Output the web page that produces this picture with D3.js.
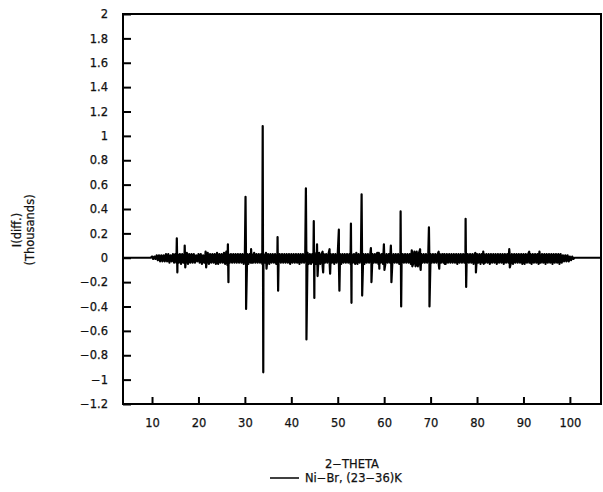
<!DOCTYPE html>
<html>
<head>
<meta charset="utf-8">
<script src="https://cdn.jsdelivr.net/npm/d3@7"></script>
<style>
  body { margin: 0; background: #fff; }
  text { font-family: "DejaVu Sans", sans-serif; fill: #111; stroke: #111; stroke-width: 0.25px; }
</style>
</head>
<body>
<div id="chart-area"></div>
<script>
// plot box in page pixels
const MARGIN = { LEFT: 123, RIGHT: 2, TOP: 14, BOTTOM: 88 }
const W = 603, H = 492
const WIDTH = W - MARGIN.LEFT - MARGIN.RIGHT
const HEIGHT = H - MARGIN.TOP - MARGIN.BOTTOM

// tick values
const xTicks = [10, 20, 30, 40, 50, 60, 70, 80, 90, 100]
const yTicks = [-1.2, -1, -0.8, -0.6, -0.4, -0.2, 0, 0.2, 0.4, 0.6, 0.8, 1, 1.2, 1.4, 1.6, 1.8, 2]

// background residual envelope, every 0.5 deg from 10 to 100.5 (thousands)
const noiseStart = 10
const noiseStep = 0.5
const noiseHi = [
  0.01,0.01,0.02,0.02,0.02,0.02,0.03,0.03,0.02,0.03,
  0.03,0.03,0.03,0.03,0.03,0.04,0.03,0.03,0.03,0.02,
  0.03,0.03,0.02,0.03,0.04,0.03,0.03,0.03,0.04,0.03,
  0.03,0.04,0.05,0.03,0.03,0.03,0.03,0.03,0.03,0.03,
  0.03,0.03,0.03,0.03,0.04,0.03,0.03,0.03,0.03,0.03,
  0.03,0.03,0.03,0.03,0.03,0.03,0.03,0.03,0.03,0.03,
  0.03,0.03,0.03,0.03,0.03,0.03,0.03,0.04,0.03,0.03,
  0.04,0.03,0.04,0.03,0.03,0.03,0.03,0.03,0.03,0.03,
  0.03,0.03,0.03,0.03,0.03,0.03,0.03,0.03,0.04,0.03,
  0.03,0.03,0.03,0.03,0.03,0.03,0.03,0.04,0.03,0.03,
  0.03,0.03,0.03,0.03,0.03,0.03,0.03,0.03,0.03,0.03,
  0.03,0.03,0.04,0.05,0.05,0.04,0.03,0.03,0.03,0.03,
  0.03,0.03,0.03,0.03,0.03,0.03,0.03,0.03,0.03,0.03,
  0.03,0.03,0.03,0.03,0.03,0.04,0.03,0.03,0.03,0.03,
  0.03,0.03,0.03,0.03,0.03,0.03,0.03,0.03,0.03,0.03,
  0.03,0.03,0.03,0.03,0.04,0.03,0.03,0.03,0.03,0.03,
  0.03,0.03,0.03,0.03,0.03,0.03,0.03,0.03,0.03,0.03,
  0.03,0.03,0.03,0.03,0.03,0.03,0.03,0.02,0.02,0.02,
  0.01,0.01
]
const noiseLo = [
  -0.01,-0.01,-0.02,-0.03,-0.03,-0.03,-0.03,-0.04,-0.03,-0.04,
  -0.04,-0.04,-0.05,-0.04,-0.04,-0.05,-0.04,-0.04,-0.04,-0.03,
  -0.04,-0.05,-0.04,-0.04,-0.05,-0.04,-0.04,-0.05,-0.05,-0.04,
  -0.04,-0.05,-0.06,-0.04,-0.04,-0.04,-0.04,-0.04,-0.04,-0.05,
  -0.04,-0.05,-0.04,-0.04,-0.04,-0.04,-0.04,-0.05,-0.04,-0.05,
  -0.05,-0.04,-0.04,-0.05,-0.04,-0.04,-0.04,-0.04,-0.04,-0.05,
  -0.04,-0.04,-0.04,-0.05,-0.04,-0.04,-0.04,-0.05,-0.05,-0.04,
  -0.05,-0.08,-0.05,-0.07,-0.04,-0.04,-0.04,-0.04,-0.05,-0.04,
  -0.04,-0.05,-0.04,-0.04,-0.04,-0.05,-0.04,-0.05,-0.05,-0.04,
  -0.04,-0.05,-0.04,-0.04,-0.05,-0.04,-0.04,-0.05,-0.04,-0.05,
  -0.05,-0.04,-0.04,-0.05,-0.04,-0.04,-0.05,-0.05,-0.04,-0.04,
  -0.04,-0.05,-0.05,-0.07,-0.07,-0.06,-0.04,-0.04,-0.04,-0.05,
  -0.04,-0.04,-0.04,-0.05,-0.04,-0.04,-0.05,-0.04,-0.04,-0.04,
  -0.04,-0.05,-0.04,-0.04,-0.04,-0.05,-0.04,-0.04,-0.05,-0.04,
  -0.04,-0.05,-0.04,-0.04,-0.04,-0.05,-0.04,-0.04,-0.05,-0.04,
  -0.04,-0.05,-0.04,-0.04,-0.05,-0.05,-0.04,-0.04,-0.04,-0.05,
  -0.05,-0.04,-0.04,-0.05,-0.04,-0.04,-0.05,-0.04,-0.04,-0.05,
  -0.04,-0.04,-0.05,-0.04,-0.04,-0.05,-0.04,-0.03,-0.03,-0.03,
  -0.02,-0.01
]

// peaks: position (2-theta), top and bottom of each swing
const peakPos  = [15.4, 17.1, 21.6, 26.4, 30.2, 31.4, 33.9, 34.6, 37.1, 43.2, 44.9, 45.6, 46.8, 48.3, 50.3, 52.9, 55.2, 57.2, 58.9, 60.0, 61.5, 63.6, 66.0, 67.8, 69.7, 71.8, 73.0, 77.6, 79.7, 81.4, 87.0, 91.3, 93.5]
const peakUp   = [0.16, 0.10, 0.05, 0.11, 0.50, 0.07, 1.08, 0.04, 0.17, 0.57, 0.30, 0.11, 0.05, 0.07, 0.23, 0.28, 0.52, 0.08, 0.04, 0.11, 0.10, 0.38, 0.06, 0.07, 0.25, 0.05, 0.03, 0.32, 0.04, 0.05, 0.07, 0.05, 0.05]
const peakDown = [-0.12, -0.08, -0.08, -0.20, -0.42, -0.04, -0.94, -0.09, -0.27, -0.67, -0.33, -0.15, -0.12, -0.13, -0.27, -0.37, -0.31, -0.20, -0.09, -0.10, -0.20, -0.40, -0.07, -0.10, -0.40, -0.09, -0.05, -0.24, -0.12, -0.05, -0.08, -0.04, -0.04]

const svg = d3.select("#chart-area").append("svg")
  .attr("width", W)
  .attr("height", H)

const g = svg.append("g")
  .attr("transform", `translate(${MARGIN.LEFT}, ${MARGIN.TOP})`)

// scales
const x = d3.scaleLinear().domain([3.75, 106.7]).range([0, WIDTH])
const y = d3.scaleLinear().domain([-1.2, 2]).range([HEIGHT, 0])

// build the trace: envelope zigzag plus the peak swings
let pts = []
noiseHi.forEach((v, i) => {
  const t = noiseStart + i * noiseStep
  pts.push({ t: t, v: v })
  pts.push({ t: t + noiseStep / 2, v: noiseLo[i] })
})
peakPos.forEach((p, i) => {
  pts.push({ t: p - 0.06, v: peakUp[i] })
  pts.push({ t: p + 0.06, v: peakDown[i] })
})
pts.push({ t: x.domain()[0], v: 0 })
pts.push({ t: noiseStart - 0.3, v: 0 })
pts.push({ t: noiseStart + noiseHi.length * noiseStep, v: 0 })
pts.push({ t: x.domain()[1], v: 0 })
pts.sort((a, b) => a.t - b.t)

const line = d3.line()
  .x(d => x(d.t))
  .y(d => y(d.v))

g.append("path")
  .attr("fill", "none")
  .attr("stroke", "#000")
  .attr("stroke-width", 2.2)
  .attr("stroke-linejoin", "round")
  .attr("d", line(pts))

// axes (ticks point inward)
const yAxis = g.append("g")
  .call(d3.axisLeft(y).tickValues(yTicks).tickSize(-8).tickPadding(15))
yAxis.select(".domain").remove()
yAxis.selectAll("line").attr("stroke", "#000").attr("stroke-width", 2)
yAxis.selectAll("text").style("font-size", "11.5px").style("font-family", "DejaVu Sans")
  .text(d => d < 0 ? "\u2212" + Math.abs(d) : d)

const xAxis = g.append("g")
  .attr("transform", `translate(0, ${HEIGHT})`)
  .call(d3.axisBottom(x).tickValues(xTicks).tickSize(-7).tickPadding(15))
xAxis.select(".domain").remove()
xAxis.selectAll("line").attr("stroke", "#000").attr("stroke-width", 2)
xAxis.selectAll("text").style("font-size", "11.5px").style("font-family", "DejaVu Sans")

// frame
g.append("rect")
  .attr("width", WIDTH)
  .attr("height", HEIGHT)
  .attr("fill", "none")
  .attr("stroke", "#000")
  .attr("stroke-width", 2)

// y title
const yTitle = svg.append("g")
  .attr("transform", "translate(0, 230) rotate(-90)")
yTitle.append("text").attr("x", 0).attr("y", 21)
  .attr("text-anchor", "middle").style("font-size", "11.5px").text("I(diff.)")
yTitle.append("text").attr("x", 0).attr("y", 34)
  .attr("text-anchor", "middle").style("font-size", "11.5px").text("(Thousands)")

// x title and legend
svg.append("text")
  .attr("x", 352).attr("y", 468)
  .attr("text-anchor", "middle").style("font-size", "11.5px")
  .text("2\u2212THETA")

svg.append("line")
  .attr("x1", 270).attr("x2", 299)
  .attr("y1", 478).attr("y2", 478)
  .attr("stroke", "#000").attr("stroke-width", 1.5)
svg.append("text")
  .attr("x", 305).attr("y", 482)
  .style("font-size", "11.5px")
  .text("Ni\u2212Br, (23\u221236)K")
</script>
</body>
</html>
